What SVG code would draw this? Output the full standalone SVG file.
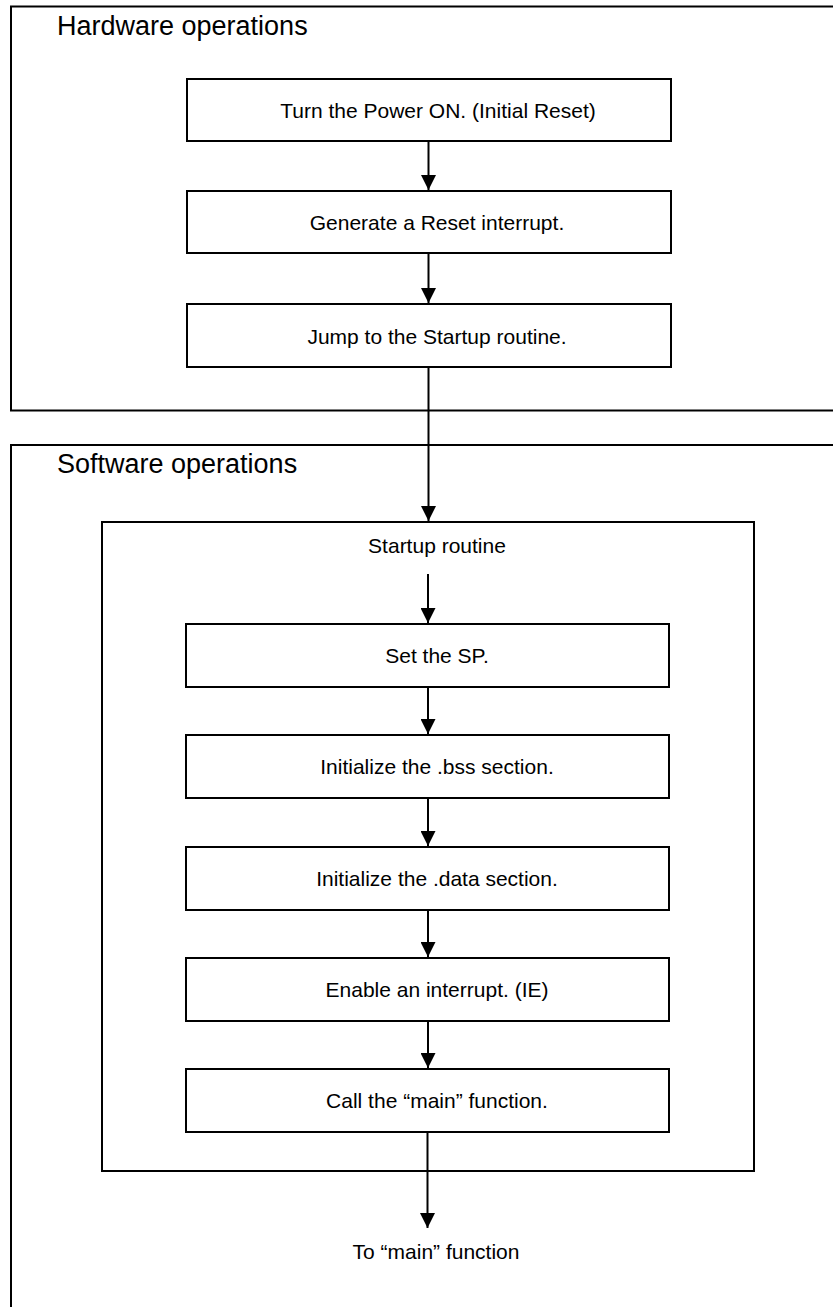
<svg xmlns="http://www.w3.org/2000/svg" width="833" height="1307" viewBox="0 0 833 1307">
  <defs>
    <style>
      .frame { fill: none; stroke: #000; stroke-width: 2; }
      .box { fill: #fff; stroke: #000; stroke-width: 2; }
      .title { font-family: "Liberation Sans", Arial, sans-serif; font-size: 27px; fill: #000; }
      .label { font-family: "Liberation Sans", Arial, sans-serif; font-size: 21px; fill: #000; text-anchor: middle; }
      .link { fill: none; stroke: #000; stroke-width: 2; marker-end: url(#arrow); }
    </style>
    <marker id="arrow" markerUnits="userSpaceOnUse" markerWidth="16" markerHeight="15" refX="16" refY="8" viewBox="0 0 16 16" orient="auto">
      <path d="M0,0 L16,8 L0,16 Z" fill="#000"/>
    </marker>
  </defs>
  <rect width="833" height="1307" fill="#fff"/>

  <!-- Hardware section -->
  <g id="hardware">
    <rect class="frame" x="11" y="6.5" width="900" height="404"/>
    <text class="title" x="57" y="35">Hardware operations</text>
  </g>

  <!-- Software section -->
  <g id="software">
    <rect class="frame" x="11" y="445" width="900" height="900"/>
    <text class="title" x="57" y="473">Software operations</text>
  </g>

  <!-- Startup routine container -->
  <g id="startup">
    <rect class="frame" x="102" y="522" width="652" height="649"/>
    <text class="label" x="437" y="553">Startup routine</text>
  </g>

  <g id="power-on">
    <rect class="box" x="187" y="79" width="484" height="62"/>
    <text class="label" x="438" y="118">Turn the Power ON. (Initial Reset)</text>
  </g>
  <g id="reset-interrupt">
    <rect class="box" x="187" y="191" width="484" height="62"/>
    <text class="label" x="437" y="230">Generate a Reset interrupt.</text>
  </g>
  <g id="jump-startup">
    <rect class="box" x="187" y="304" width="484" height="63"/>
    <text class="label" x="437" y="344">Jump to the Startup routine.</text>
  </g>

  <g id="set-sp">
    <rect class="box" x="186" y="624" width="483" height="63"/>
    <text class="label" x="437" y="663">Set the SP.</text>
  </g>
  <g id="init-bss">
    <rect class="box" x="186" y="735" width="483" height="63"/>
    <text class="label" x="437" y="774">Initialize the .bss section.</text>
  </g>
  <g id="init-data">
    <rect class="box" x="186" y="847" width="483" height="63"/>
    <text class="label" x="437" y="886">Initialize the .data section.</text>
  </g>
  <g id="enable-ie">
    <rect class="box" x="186" y="958" width="483" height="63"/>
    <text class="label" x="437" y="997">Enable an interrupt. (IE)</text>
  </g>
  <g id="call-main">
    <rect class="box" x="186" y="1069" width="483" height="63"/>
    <text class="label" x="437" y="1108">Call the “main” function.</text>
  </g>

  <g id="to-main">
    <text class="label" x="436" y="1259">To “main” function</text>
  </g>

  <!-- Connectors -->
  <g id="connectors">
    <line class="link" x1="428.5" y1="141" x2="428.5" y2="190"/>
    <line class="link" x1="428.5" y1="253" x2="428.5" y2="303"/>
    <line class="link" x1="428.5" y1="367" x2="428.5" y2="521"/>
    <line class="link" x1="428" y1="574" x2="428" y2="623"/>
    <line class="link" x1="428" y1="687" x2="428" y2="734"/>
    <line class="link" x1="428" y1="798" x2="428" y2="846"/>
    <line class="link" x1="428" y1="910" x2="428" y2="957"/>
    <line class="link" x1="428" y1="1021" x2="428" y2="1068"/>
    <line class="link" x1="427.5" y1="1132" x2="427.5" y2="1228"/>
  </g>
</svg>
